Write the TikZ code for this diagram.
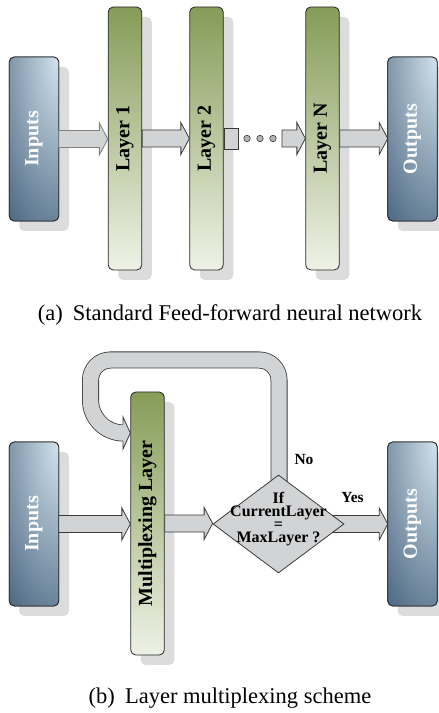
\documentclass[tikz,border=0pt]{standalone}
\usepackage{fontspec}
\setmainfont{Liberation Serif}
\usetikzlibrary{shapes.geometric,shadows,calc}
\definecolor{bdark}{HTML}{33506E}
\definecolor{blight}{HTML}{D3E3EC}
\definecolor{gtop}{HTML}{869C58}
\definecolor{gbot}{HTML}{EEF2E6}
\definecolor{shad}{HTML}{DCDCDC}
\definecolor{afill}{HTML}{D2D3D5}
\definecolor{aline}{HTML}{3A3A3A}
\tikzset{
  boxshadow/.style={drop shadow={shadow xshift=10pt,shadow yshift=-10pt,fill=shad,opacity=1}},
  iobox/.style={draw=black!85, line width=0.8pt, rounded corners=5pt, minimum width=49.5pt,
    minimum height=164pt, inner sep=0pt, outer sep=0pt, boxshadow, fill=bdark},
  ioborder/.style={draw=black!85, line width=0.8pt, rounded corners=5pt},
  layerbox/.style={draw=black!85, line width=0.8pt, rounded corners=5pt, minimum width=33.5pt,
    minimum height=263pt, inner sep=0pt, boxshadow, top color=gtop, bottom color=gbot},
  iotext/.style={rotate=90, text=white, inner sep=0pt, font=\bfseries\fontsize{20}{24}\selectfont},
  laytext/.style={rotate=90, text=black, inner sep=0pt, font=\bfseries\fontsize{20}{24}\selectfont},
  barrowstyle/.style={fill=afill, draw=aline, line width=0.8pt, line join=miter},
  stubstyle/.style={fill=afill, draw=aline, line width=0.8pt, minimum width=14pt, minimum height=21pt, inner sep=0pt},
  dotstyle/.style={circle, fill=afill!85!black, draw=aline, line width=0.6pt, minimum size=6.5pt, inner sep=0pt},
  diastyle/.style={diamond, fill=afill, draw=aline, line width=0.8pt, minimum width=131pt, minimum height=98pt, inner sep=0pt},
  diatext/.style={align=center, inner sep=0pt, font=\bfseries\fontsize{16}{13}\selectfont},
  lbl/.style={inner sep=0pt, font=\bfseries\fontsize{15.5}{18}\selectfont},
  captext/.style={inner sep=0pt, font=\fontsize{22.5}{26}\selectfont},
}
\newcommand\barrow[3][]{\path[barrowstyle,#1] let \p1=(#2), \p2=(#3) in
  (\x1,\y1+8.5pt) -- (\x2-8.5pt,\y1+8.5pt) -- (\x2-8.5pt,\y1+16pt) -- (\x2,\y1)
  -- (\x2-8.5pt,\y1-16pt) -- (\x2-8.5pt,\y1-8.5pt) -- (\x1,\y1-8.5pt) -- cycle;}
% shading of an input/output box: light at the top right corner
\newcommand\ioshade[1]{%
  \begin{scope}
    \clip[rounded corners=5pt] (#1.south west) rectangle (#1.north east);
    \shade[inner color=blight, outer color=bdark] (#1.north east) ellipse [x radius=95pt, y radius=250pt];
  \end{scope}
  \draw[ioborder] (#1.south west) rectangle (#1.north east);}
\begin{document}
\begin{tikzpicture}[x=1pt,y=1pt]
\useasboundingbox (0,0) rectangle (439,713);
% ---------- panel (a)
\node[iobox] (in1) at (34,574) {};
\ioshade{in1}
\node[iotext] (in1t) at (in1.center) {Inputs};
\node[layerbox] (l1) at (125,574.5) {};
\node[laytext] (l1t) at (l1.center) {Layer 1};
\node[layerbox] (l2) at (206.5,574.5) {};
\node[laytext] (l2t) at (l2.center) {Layer 2};
\node[layerbox] (ln) at (322.5,574.5) {};
\node[laytext] (lnt) at (ln.center) {Layer N};
\node[iobox] (out1) at (412.5,574) {};
\ioshade{out1}
\node[iotext] (out1t) at (out1.center) {Outputs};
\barrow[draw=gray]{in1.east}{l1.west}
\barrow{l1.east}{l2.west}
\node[stubstyle, anchor=west] (stub) at (l2.east) {};
\node[dotstyle] (d1) at (247,574.5) {};
\node[dotstyle] (d2) at (260,574.5) {};
\node[dotstyle] (d3) at (273,574.5) {};
\coordinate (lnin) at (282,574.5);
\barrow{lnin}{ln.west}
\barrow{ln.east}{out1.west}
\node[captext] (capa) at (230,398) {(a)\hspace{0.45em}Standard Feed-forward neural network};
% ---------- panel (b)
\node[iobox] (in2) at (34,189) {};
\ioshade{in2}
\node[iotext] (in2t) at (in2.center) {Inputs};
\node[layerbox] (mux) at (147.5,189.5) {};
\node[laytext] (muxt) at (mux.center) {Multiplexing Layer};
\node[iobox] (out2) at (412.5,189) {};
\ioshade{out2}
\node[iotext] (out2t) at (out2.center) {Outputs};
\coordinate (dc) at (278.5,189);
\barrow{in2.east}{mux.west}
% loop band
\coordinate (lstart) at (279,226);
\coordinate (lend) at (123.5,280);
\draw[aline, line width=17pt] (lstart) -- (279,333) arc[start angle=0,end angle=90,radius=20]
  -- (110.5,353) arc[start angle=90,end angle=180,radius=20] -- (90.5,313)
  arc[start angle=180,end angle=270,radius=33] -- (lend);
\draw[afill, line width=15.4pt] (lstart) -- (279,333) arc[start angle=0,end angle=90,radius=20]
  -- (110.5,353) arc[start angle=90,end angle=180,radius=20] -- (90.5,313)
  arc[start angle=180,end angle=270,radius=33] -- (lend);
\path[fill=afill] let \p1=(mux.west) in (123,296) -- (\x1,280) -- (123,264) -- cycle;
\draw[aline, line width=0.8pt, line join=miter] let \p1=(mux.west) in
  (123,288.5) -- (123,296) -- (\x1,280) -- (123,264) -- (123,271.5);
\barrow{dc}{out2.west}
\node[diastyle] (dia) at (dc) {};
\node[diatext] (diat) at ($(dia.center)+(0,5)$) {If\\CurrentLayer\\=\\MaxLayer ?};
\barrow{mux.east}{dia.west}
\node[lbl] (no) at (304,253) {No};
\node[lbl] (yes) at (352.5,215) {Yes};
\node[captext] (capb) at (230,15) {(b)\hspace{0.45em}Layer multiplexing scheme};
\end{tikzpicture}
\end{document}
